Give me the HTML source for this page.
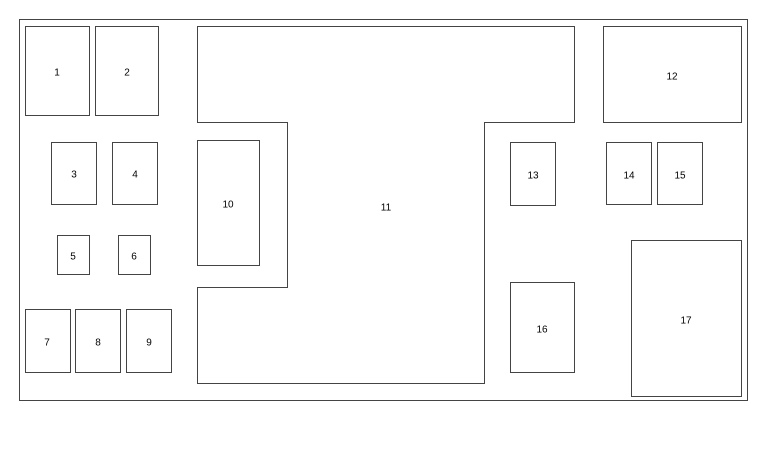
<!DOCTYPE html>
<html><head><meta charset="utf-8"><style>
html,body{margin:0;padding:0;background:#fff;}
svg text{font-family:"Liberation Sans",sans-serif;font-size:10px;fill:#000;text-anchor:middle;dominant-baseline:central;}
</style></head><body>
<svg width="768" height="457" viewBox="0 0 768 457" xmlns="http://www.w3.org/2000/svg">
<g fill="none" stroke="#444" stroke-width="1">
<rect x="19.5" y="19.5" width="728" height="381"/>
<rect x="25.5" y="26.5" width="64" height="89"/>
<rect x="95.5" y="26.5" width="63" height="89"/>
<rect x="51.5" y="142.5" width="45" height="62"/>
<rect x="112.5" y="142.5" width="45" height="62"/>
<rect x="57.5" y="235.5" width="32" height="39"/>
<rect x="118.5" y="235.5" width="32" height="39"/>
<rect x="25.5" y="309.5" width="45" height="63"/>
<rect x="75.5" y="309.5" width="45" height="63"/>
<rect x="126.5" y="309.5" width="45" height="63"/>
<rect x="197.5" y="140.5" width="62" height="125"/>
<path d="M197.5 26.5 H574.5 V122.5 H484.5 V383.5 H197.5 V287.5 H287.5 V122.5 H197.5 Z"/>
<rect x="603.5" y="26.5" width="138" height="96"/>
<rect x="510.5" y="142.5" width="45" height="63"/>
<rect x="606.5" y="142.5" width="45" height="62"/>
<rect x="657.5" y="142.5" width="45" height="62"/>
<rect x="510.5" y="282.5" width="64" height="90"/>
<rect x="631.5" y="240.5" width="110" height="156"/>
</g>
<g transform="translate(0,1)">
<text x="57" y="72">1</text>
<text x="127" y="72">2</text>
<text x="74" y="174">3</text>
<text x="135" y="174">4</text>
<text x="73" y="256">5</text>
<text x="134" y="256">6</text>
<text x="47" y="342">7</text>
<text x="98" y="342">8</text>
<text x="149" y="342">9</text>
<text x="228" y="204">10</text>
<text x="386" y="207">11</text>
<text x="672" y="76">12</text>
<text x="533" y="175">13</text>
<text x="629" y="175">14</text>
<text x="680" y="175">15</text>
<text x="542" y="329">16</text>
<text x="686" y="320">17</text>
</g>
</svg>
</body></html>
